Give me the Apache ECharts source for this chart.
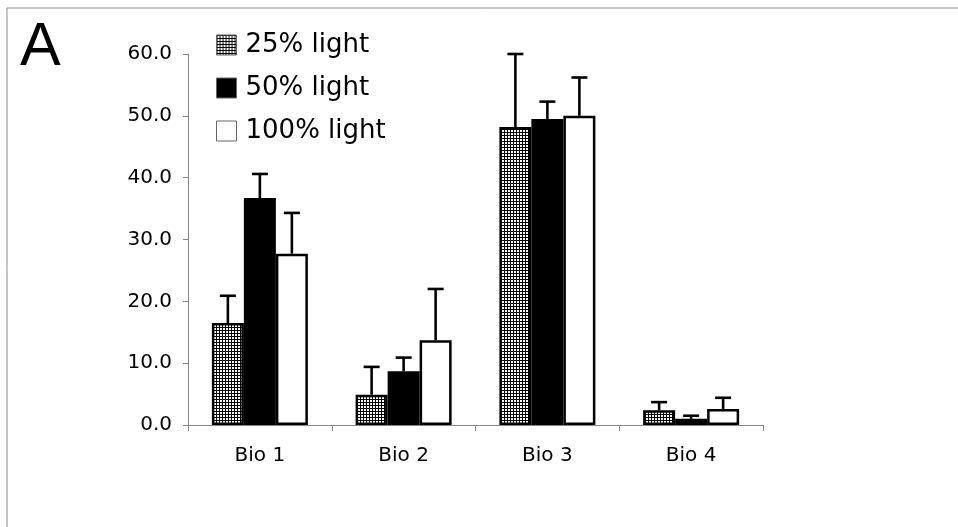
<!DOCTYPE html>
<html>
<head>
<meta charset="utf-8">
<script src="https://cdn.jsdelivr.net/npm/echarts@6/dist/echarts.min.js"></script>
<style>
html,body{margin:0;padding:0;background:#fff;}
#chart{width:958px;height:527px;}
</style>
</head>
<body>
<div id="chart"></div>
<script>
// ---- data ----
const categories = ['Bio 1', 'Bio 2', 'Bio 3', 'Bio 4'];
const seriesNames = ['25% light', '50% light', '100% light'];
const light25 = [16.5, 4.9, 48.2, 2.4];
const light50 = [36.7, 8.7, 49.5, 1.0];
const light100 = [27.7, 13.7, 50.0, 2.6];
const err25 = [4.4, 4.5, 11.8, 1.3];
const err50 = [3.9, 2.2, 2.8, 0.5];
const err100 = [6.6, 8.3, 6.2, 1.8];
const yTicks = [0, 10, 20, 30, 40, 50, 60];

// ---- pattern for 25% ----
const pc = document.createElement('canvas');
pc.width = 3; pc.height = 3;
const pctx = pc.getContext('2d');
pctx.fillStyle = '#fff'; pctx.fillRect(0, 0, 3, 3);
pctx.fillStyle = '#000'; pctx.fillRect(0, 0, 3, 1); pctx.fillRect(0, 0, 1, 3);

const BAR_W = 32;
const fills = [{ image: pc, repeat: 'repeat' }, '#000', '#fff'];
const means = [light25, light50, light100];
const errs = [err25, err50, err100];

function errSeries(k) {
  const offset = (k - 1) * BAR_W;
  return {
    type: 'custom',
    name: 'err' + k,
    z: 5,
    silent: true,
    data: categories.map((c, i) => [i, means[k][i], errs[k][i]]),
    encode: { x: 0, y: 1 },
    renderItem: function (params, api) {
      const base = api.coord([api.value(0), api.value(1)]);
      const top = api.coord([api.value(0), api.value(1) + api.value(2)]);
      const x = base[0] + offset;
      const style = { stroke: '#000', lineWidth: 2.6 };
      return {
        type: 'group',
        children: [
          { type: 'line', shape: { x1: x, y1: base[1], x2: x, y2: top[1] }, style: style },
          { type: 'line', shape: { x1: x - 8, y1: top[1], x2: x + 8, y2: top[1] }, style: style }
        ]
      };
    }
  };
}

const barSeries = seriesNames.map((n, k) => ({
  type: 'bar',
  name: n,
  data: means[k],
  barWidth: BAR_W,
  barGap: '0%',
  itemStyle: { color: fills[k], borderColor: '#000', borderWidth: 2.5 },
  z: 2
}));

const chart = echarts.init(document.getElementById('chart'), null, { renderer: 'canvas' });
chart.setOption({
  animation: false,
  backgroundColor: '#fff',
  textStyle: { fontFamily: 'DejaVu Sans' },
  grid: { left: 188, right: 195, top: 54, bottom: 102, containLabel: false },
  legend: {
    data: seriesNames,
    orient: 'vertical',
    left: 216,
    top: 32,
    padding: 0,
    itemWidth: 20,
    itemHeight: 20,
    itemGap: 17,
    icon: 'rect',
    itemStyle: { borderWidth: 1, borderColor: '#666' },
    textStyle: { fontSize: 26, color: '#000', fontFamily: 'DejaVu Sans', padding: [0, 0, 0, 4] }
  },
  xAxis: {
    type: 'category',
    data: categories,
    axisLine: { lineStyle: { color: '#888', width: 1 } },
    axisTick: { show: true, length: 6, lineStyle: { color: '#888' } },
    axisLabel: { fontSize: 20, color: '#000', margin: 21, fontFamily: 'DejaVu Sans' },
    splitLine: { show: false }
  },
  yAxis: {
    type: 'value',
    min: yTicks[0],
    max: yTicks[yTicks.length - 1],
    interval: 10,
    axisLine: { show: true, lineStyle: { color: '#888', width: 1 } },
    axisTick: { show: true, length: 5, lineStyle: { color: '#888' } },
    axisLabel: { fontSize: 20, color: '#000', margin: 16, fontFamily: 'DejaVu Sans',
      formatter: v => v.toFixed(1) },
    splitLine: { show: false }
  },
  graphic: [
    { type: 'line', shape: { x1: 7, y1: 8, x2: 958, y2: 8 }, style: { stroke: '#8c8c8c', lineWidth: 1 } },
    { type: 'line', shape: { x1: 7, y1: 8, x2: 7, y2: 527 }, style: { stroke: '#8c8c8c', lineWidth: 1 } },
    { type: 'text', left: 20, top: 18,
      style: { text: 'A', fontSize: 61, fontFamily: 'Liberation Sans', fill: '#000' } }
  ],
  series: barSeries.concat([errSeries(0), errSeries(1), errSeries(2)])
});
</script>
</body>
</html>
